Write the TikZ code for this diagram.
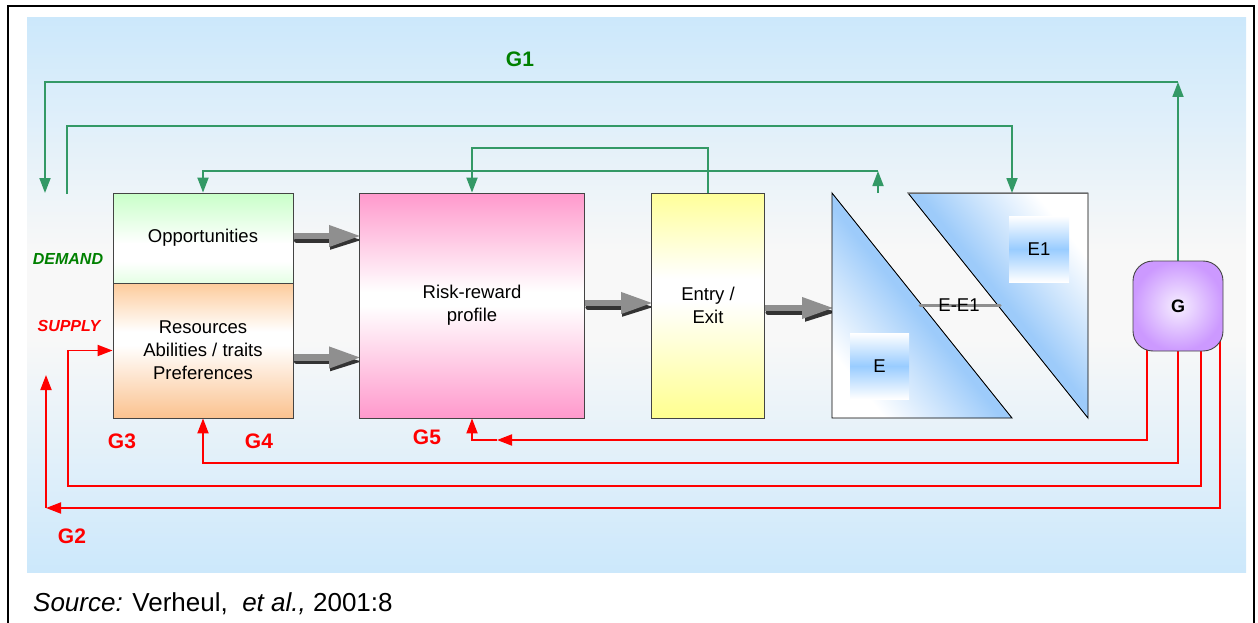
\documentclass[tikz,border=0pt]{standalone}
\usepackage{fontspec}
\setmainfont{Liberation Sans}
\usetikzlibrary{arrows.meta,calc}
\pgfdeclarelayer{bg}
\pgfdeclarelayer{wires}
\pgfsetlayers{bg,wires,main}

\definecolor{panelblue}{HTML}{CCE8FB}
\definecolor{panelmid}{HTML}{F8F8F8}
\definecolor{linkgreen}{HTML}{339966}
\definecolor{labelgreen}{HTML}{008000}
\definecolor{linkred}{HTML}{FF0000}
\definecolor{boxline}{HTML}{444444}
\definecolor{oppT}{HTML}{C8FFC8}
\definecolor{oppB}{HTML}{E4FFE4}
\definecolor{resT}{HTML}{FDCB9B}
\definecolor{resB}{HTML}{FBC28F}
\definecolor{pinkT}{HTML}{FF99CC}
\definecolor{pinkB}{HTML}{FF99CC}
\definecolor{yelT}{HTML}{FFFF99}
\definecolor{yelB}{HTML}{FFFF8F}
\definecolor{skyblue}{HTML}{99CCFF}
\definecolor{triblue}{HTML}{9DCBFA}
\definecolor{Gin}{HTML}{F6EEFF}
\definecolor{Gout}{HTML}{CC99FF}
\definecolor{fatgray}{HTML}{8F8F8F}
\definecolor{fatdark}{HTML}{333333}

% vertical fills of the boxes (bottom to top)
\pgfdeclareverticalshading{oppfill}{100bp}{color(0bp)=(oppB); color(25bp)=(oppB); color(37bp)=(white); color(47bp)=(white); color(75bp)=(oppT); color(100bp)=(oppT)}
\pgfdeclareverticalshading{resfill}{100bp}{color(0bp)=(resB); color(25bp)=(resB); color(52bp)=(white); color(57bp)=(white); color(75bp)=(resT); color(100bp)=(resT)}
\pgfdeclareverticalshading{riskfill}{100bp}{color(0bp)=(pinkB); color(25bp)=(pinkB); color(50bp)=(white); color(53bp)=(white); color(75bp)=(pinkT); color(100bp)=(pinkT)}
\pgfdeclareverticalshading{entryfill}{100bp}{color(0bp)=(yelB); color(25bp)=(yelB); color(51bp)=(white); color(56bp)=(white); color(75bp)=(yelT); color(100bp)=(yelT)}
\pgfdeclareverticalshading{efill}{100bp}{color(0bp)=(white); color(25bp)=(white); color(50bp)=(skyblue); color(75bp)=(white); color(100bp)=(white)}
\pgfdeclareverticalshading{trifill}{100bp}{color(0bp)=(white); color(25bp)=(white); color(38bp)=(triblue!55); color(48bp)=(triblue); color(100bp)=(triblue)}
\pgfdeclareverticalshading{trifillrev}{100bp}{color(0bp)=(triblue); color(52bp)=(triblue); color(62bp)=(triblue!55); color(75bp)=(white); color(100bp)=(white)}
\pgfdeclareverticalshading{panelfill}{100bp}{color(0bp)=(panelblue); color(25bp)=(panelblue); color(46bp)=(panelmid); color(54bp)=(panelmid); color(75bp)=(panelblue); color(100bp)=(panelblue)}

\newcommand\boxfont{\fontsize{18.5}{23}\selectfont}
\newcommand\gfont{\fontsize{21}{21}\selectfont\bfseries}

\begin{document}
\begin{tikzpicture}[x=1pt,y=-1pt,
  box/.style={draw=boxline, line width=0.8pt, shade, inner sep=0pt, align=center, font=\boxfont},
  ebox/.style={shade, shading=efill, inner sep=0pt, font=\boxfont},
  glink/.style={draw=linkgreen, line width=1.8pt, -{Triangle[length=15pt,width=11pt]}},
  rlink/.style={draw=linkred, line width=1.8pt, -{Triangle[length=15pt,width=11pt]}},
  fat/.style={draw=fatgray, line width=6.5pt, line cap=round, -{Triangle[length=32pt,width=20pt,fill=fatgray]}},
  fatshadow/.style={draw=fatdark, line width=5pt, line cap=round, -{Triangle[length=32pt,width=18pt,fill=fatdark]}},
  glabel/.style={font=\gfont},
]
\useasboundingbox (0,0) rectangle (1258,623);

% outer frame and gradient panel
\draw[line width=2pt] (8,640) -- (8,6) -- (1254,6) -- (1254,640);
\begin{pgfonlayer}{bg}
  \shade[shading=panelfill] (27,18) rectangle (1246,572);
\end{pgfonlayer}

% main blocks
\node[box, shading=oppfill, minimum width=180pt, minimum height=90pt] (opp) at (203,238) {Opportunities};
\node[box, shading=resfill, minimum width=180pt, minimum height=135pt] (res) at (203,350.5) {Resources\\Abilities / traits\\Preferences};
\node[box, shading=riskfill, minimum width=225pt, minimum height=225pt] (risk) at (472,305.5) {Risk-reward\\profile};
\node[box, shading=entryfill, minimum width=113pt, minimum height=225pt] (entry) at (708,305.5) {Entry /\\Exit};

% the two triangles E and E1
\coordinate (ltA) at (832,193);
\coordinate (ltB) at (832,418);
\coordinate (ltC) at (1012,418);
\coordinate (rtA) at (908,193);
\coordinate (rtB) at (1088,193);
\coordinate (rtC) at (1088,418);
\shade[shading=trifill, shading angle=-51.34] (ltA) -- (ltB) -- (ltC) -- cycle;
\draw[line width=0.9pt] (ltA) -- (ltB) -- (ltC) -- cycle;
\shade[shading=trifillrev, shading angle=-51.34] (rtA) -- (rtB) -- (rtC) -- cycle;
\draw[line width=0.9pt] (rtA) -- (rtB) -- (rtC) -- cycle;
\draw[boxline!80, line width=0.8pt] (rtA) -- (rtB);

\node[ebox, minimum width=59pt, minimum height=66pt] (E) at (879.5,366) {E};
\node[ebox, minimum width=60pt, minimum height=66pt] (E1) at (1039,249) {E1};

\coordinate (gapL) at (920,305.5);
\coordinate (gapR) at (1000,305.5);
\draw[fatgray, line width=3pt, line cap=round] (gapL) -- (gapR);
\node[font=\boxfont, inner sep=0pt] (gap) at (959,305) {E-E1};

% government node
\node[draw=boxline, line width=0.9pt, rounded corners=20pt, inner color=Gin, outer color=Gout,
      minimum width=90pt, minimum height=90pt, font=\fontsize{18}{18}\selectfont\bfseries] (G) at (1178,306) {G};

% labels
\node[font=\fontsize{16}{16}\selectfont\bfseries\itshape, text=labelgreen] (demand) at (68,259) {DEMAND};
\node[font=\fontsize{16}{16}\selectfont\bfseries\itshape, text=linkred] (supply) at (69,326) {SUPPLY};
\node[glabel, text=labelgreen] (lg1) at (520,59) {G1};
\node[glabel, text=linkred] (lg2) at (72,536) {G2};
\node[glabel, text=linkred] (lg3) at (122,441) {G3};
\node[glabel, text=linkred] (lg4) at (259,441) {G4};
\node[glabel, text=linkred] (lg5) at (427,437) {G5};

% caption
\node[anchor=base west, inner sep=0pt, font=\fontsize{26}{26}\selectfont] (src) at (33,611)
  {\textit{Source:} Verheul,\ \ \textit{et al.,} 2001:8};

% fat process arrows with their shadows
\begin{pgfonlayer}{wires}
  \foreach \a/\b/\dy in {opp/risk/-2, res/risk/7, risk/entry/-2.5} {
    \draw[fatshadow] ([shift={(3,4)}]$(\a.east)+(0,\dy)$) -- ([shift={(3,4)}]$(\a.east -| \b.west)+(0,\dy)$);
    \draw[fat] ($(\a.east)+(0,\dy)$) -- ($(\a.east -| \b.west)+(2,\dy)$);
  }
  \coordinate (tin) at (834,308);
  \draw[fatshadow] ([shift={(3,4)}]entry.east |- tin) -- ([shift={(3,4)}]tin);
  \draw[fat] (entry.east |- tin) -- (tin);
\end{pgfonlayer}

% green links
\begin{pgfonlayer}{wires}
  \coordinate (g1top) at (1178,82);
  \coordinate (dl) at (45,193);
  \draw[glink] (G.center) -- (g1top);
  \draw[glink] (g1top) -- (dl |- g1top) -- (dl);
  \coordinate (dr) at (67,194);
  \coordinate (e1in) at (1012,193);
  \draw[glink] (dr) -- ++(0,-68) -| (e1in);
  \coordinate (exr) at (708,148);
  \coordinate (exl) at (472,148);
  \draw[glink] (entry.north) -- (exr) -- (exl) -- (risk.north);
  \coordinate (eout) at (878,193);
  \coordinate (eback) at (878,171);
  \draw[glink] (eout) -- (eback);
  \draw[glink] (eback) -| (opp.north);
\end{pgfonlayer}

% red links
\begin{pgfonlayer}{wires}
  \coordinate (ra) at (1147,440);
  \coordinate (g5) at (497,440);
  \draw[rlink] (G.center -| ra) -- (ra) -- (g5);
  \draw[rlink] (g5) -| (risk.south);
  \coordinate (rbr) at (1178,463);
  \coordinate (rbl) at (203,463);
  \draw[rlink] (G.center) -- (rbr) -- (rbl) -- (res.south);
  \coordinate (rc) at (1201,486);
  \draw[rlink] (G.center -| rc) -- (rc) -- (68,486) |- (res.west);
  \coordinate (rd) at (1220,508);
  \coordinate (g2c) at (46,508);
  \draw[rlink] (G.center -| rd) -- (rd) -- (g2c);
  \draw[rlink] (g2c) -- (46,375);
\end{pgfonlayer}
\end{tikzpicture}
\end{document}
